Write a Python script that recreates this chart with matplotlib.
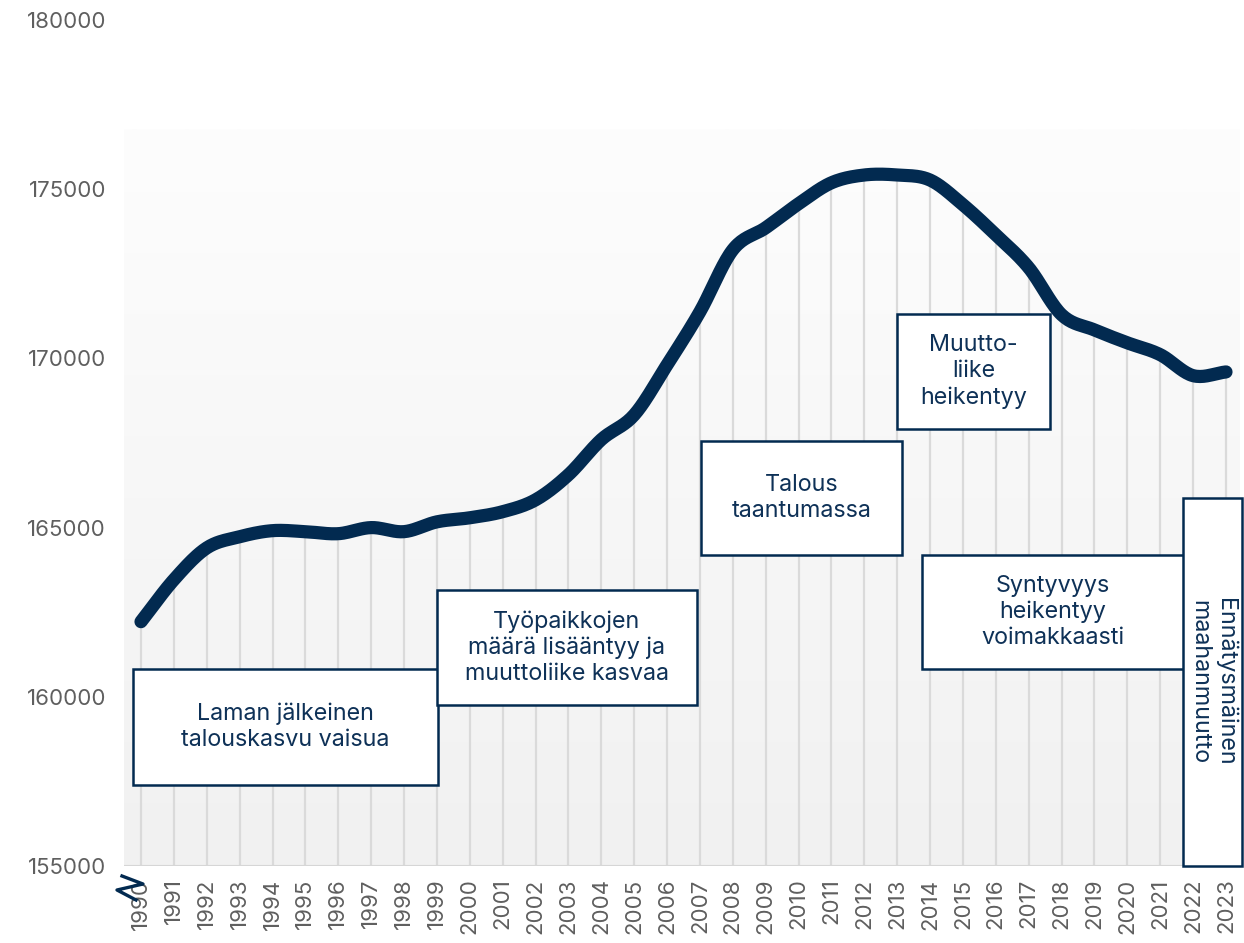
import numpy as np
import matplotlib
matplotlib.use("Agg")
import matplotlib.pyplot as plt
from matplotlib.patches import Rectangle
from matplotlib.lines import Line2D
from matplotlib.colors import LinearSegmentedColormap

plt.rcParams['font.family'] = ['Inter', 'DejaVu Sans']

years = list(range(1990, 2024))
population = [162220, 163460, 164400, 164730, 164910, 164880, 164820, 165000, 164880, 165170,
              165290, 165470, 165820, 166560, 167600, 168330, 169810, 171380, 173210, 173860,
              174570, 175190, 175420, 175420, 175270, 174540, 173650, 172680, 171290, 170840,
              170460, 170110, 169490, 169600]
y_ticks = [155000, 160000, 165000, 170000, 175000, 180000]

annotations = [
    "Laman jälkeinen\ntalouskasvu vaisua",
    "Työpaikkojen\nmäärä lisääntyy ja\nmuuttoliike kasvaa",
    "Talous\ntaantumassa",
    "Muutto-\nliike\nheikentyy",
    "Syntyvyys\nheikentyy\nvoimakkaasti",
    "Ennätysmäinen\nmaahanmuutto",
]
# box extents (x0, x1, y0, y1) in data coordinates
box_extents = [
    (1989.76, 1999.03, 157394, 160822),
    (1999.00, 2006.91, 159758, 163156),
    (2007.03, 2013.14, 164190, 167559),
    (2012.99, 2017.65, 167914, 171312),
    (2013.75, 2021.72, 160822, 164190),
    (2021.69, 2023.49, 155000, 165875),
]
box_rot = [0, 0, 0, 0, 0, 270]

NAVY = '#022a50'
TEXT_NAVY = '#0e3157'
GRAY_TXT = '#5f5f5f'

W, H = 1244, 943
fig = plt.figure(figsize=(W / 100, H / 100), dpi=100)
ax = fig.add_axes([124 / W, (H - 866) / H, (1240 - 124) / W, (866 - 20) / H])

xstep = (1226 - 141) / 33
xlim = (1990 - (141 - 124) / xstep, 2023 + (1240 - 1226) / xstep)
ax.set_xlim(*xlim)
ax.set_ylim(155000, 180000)

# gradient background
cmap = LinearSegmentedColormap.from_list('bg', ['#f1f1f1', '#fdfdfd'])
grad = np.linspace(0, 1, 256).reshape(-1, 1)
ax.imshow(grad, extent=[xlim[0], xlim[1], 155000, 176750], origin='lower',
          aspect='auto', cmap=cmap, zorder=0, interpolation='bilinear')

# smooth curve (Catmull-Rom through the data points)
x = np.array(years, dtype=float)
y = np.array(population, dtype=float)
n = len(x)
xs, ys = [], []
for i in range(n - 1):
    p0 = y[i - 1] if i > 0 else y[i]
    p1, p2 = y[i], y[i + 1]
    p3 = y[i + 2] if i + 2 < n else y[i + 1]
    m1 = (p2 - p0) / 2 if i > 0 else (p2 - p1)
    m2 = (p3 - p1) / 2 if i + 2 < n else (p2 - p1)
    t = np.linspace(0, 1, 20, endpoint=(i == n - 2))
    h00 = 2 * t**3 - 3 * t**2 + 1
    h10 = t**3 - 2 * t**2 + t
    h01 = -2 * t**3 + 3 * t**2
    h11 = t**3 - t**2
    xs.extend(x[i] + t)
    ys.extend(h00 * p1 + h10 * m1 + h01 * p2 + h11 * m2)

# drop lines
ax.vlines(x, 155000, y, color='#dadada', lw=1.6, zorder=1)
ax.axhline(155000, color='#d6d6d6', lw=1.5, zorder=1)
ax.plot(xs, ys, color=NAVY, lw=9.5, solid_capstyle='round', zorder=3)

# annotation boxes
for txt, (x0, x1, y0, y1), rot in zip(annotations, box_extents, box_rot):
    ax.add_patch(Rectangle((x0, y0), x1 - x0, y1 - y0, facecolor='white',
                           edgecolor=NAVY, lw=1.8, zorder=4, clip_on=False))
    ax.text((x0 + x1) / 2, (y0 + y1) / 2, txt, ha='center', va='center',
            fontsize=16.8, color=TEXT_NAVY, rotation=rot, linespacing=1.22,
            zorder=5, clip_on=False)

for s in ax.spines.values():
    s.set_visible(False)
ax.set_yticks(y_ticks)
ax.set_yticklabels([str(v) for v in y_ticks], fontsize=16, color=GRAY_TXT)
ax.set_xticks(years)
ax.set_xticklabels([str(v) for v in years], rotation=90, fontsize=16, color=GRAY_TXT)
ax.tick_params(axis='both', length=0)
ax.tick_params(axis='y', pad=13)
ax.tick_params(axis='x', pad=9)

# axis break mark
bx = [122, 143, 117, 136]
by = [876, 884, 890, 900]
fig.add_artist(Line2D([v / W for v in bx], [1 - v / H for v in by],
                      transform=fig.transFigure, color=NAVY, lw=2.4))

fig.savefig('out.png', dpi=100)
